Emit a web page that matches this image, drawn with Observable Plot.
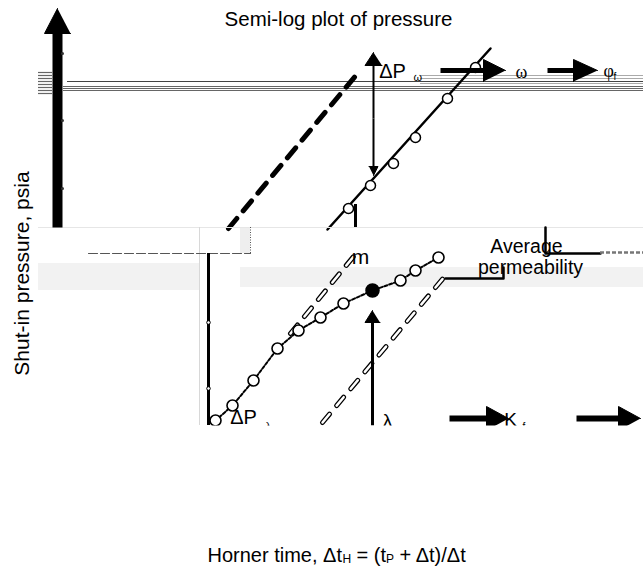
<!DOCTYPE html>
<html><head><meta charset="utf-8">
<script src="https://cdn.jsdelivr.net/npm/d3@7"></script>
<script src="https://cdn.jsdelivr.net/npm/@observablehq/plot@0.6"></script>
<style>
body{margin:0;background:#fff;}
#chart svg{display:block;font-family:"Liberation Sans",Arial,sans-serif;background:#fff;}
</style>
</head><body><div id="chart"></div>
<script>
// ---- data (schematic units: t = log Horner time position, p = pressure) ----
const earlyTime = [34.8, 37.0, 39.3, 41.5, 44.7, 47.5];
const earlyPressure = [36.0, 38.3, 40.5, 43.1, 47.0, 50.1];
const earlyFit = [{t: 32.7, p: 33.9}, {t: 49.0, p: 52.0}];
const earlyParallel = [{t: 22.8, p: 34.0}, {t: 35.7, p: 49.5}];

const lateTime = [21.5, 23.2, 25.3, 27.7, 29.8, 32.0, 34.3, 37.2, 40.0, 41.5, 43.8];
const latePressure = [14.8, 16.3, 18.8, 22.0, 23.8, 25.1, 26.5, 27.8, 28.8, 29.8, 31.1];
const inflectionIndex = 7;
const slopeLineA = [{t: 29.0, p: 23.5}, {t: 35.8, p: 31.8}];
const slopeLineB = [{t: 32.2, p: 14.6}, {t: 44.5, p: 29.3}];
const bracketLow = [{t: 44.5, p: 29.0}, {t: 50.3, p: 29.0}, {t: 50.3, p: 30.1}];
const bracketHigh = [{t: 54.5, p: 34.1}, {t: 54.5, p: 31.5}, {t: 60.0, p: 31.5}];
const pInitialLevel = [{t: 8.8, p: 31.5}, {t: 25.0, p: 31.5}];

const arrows = [
  {id: "axis", t1: 5.7, p1: 34.1, t2: 5.7, p2: 56.0},
  {id: "dPwUp", t1: 37.3, p1: 45.0, t2: 37.3, p2: 51.6},
  {id: "dPwDown", t1: 37.3, p1: 45.0, t2: 37.3, p2: 39.3},
  {id: "omega", t1: 44.0, p1: 49.8, t2: 50.5, p2: 49.8},
  {id: "phi", t1: 54.7, p1: 49.8, t2: 59.7, p2: 49.8},
  {id: "lambda", t1: 37.2, p1: 14.3, t2: 37.2, p2: 25.8},
  {id: "kf", t1: 44.9, p1: 15.0, t2: 50.8, p2: 15.0},
  {id: "out", t1: 57.6, p1: 15.0, t2: 64.0, p2: 15.0}
];
const axisTicks = [51.5, 44.8, 38.0];
const lowerAxisTicks = [24.6, 18.0];
const topLevelsDark = [48.7];
const topLevelsMid = [48.2, 48.0, 47.8];
const topLevelsLight = [49.3, 49.0, 48.5];
const leftHatch = [49.6, 49.3, 49.0, 48.7, 48.4, 48.1, 47.8, 47.5];

const labels = [
  {t: 33.8, p: 54.3, text: "Semi-log plot of pressure", size: 20.5, anchor: "middle"},
  {t: 39.2, p: 49.1, text: "ΔP", size: 20, anchor: "start"},
  {t: 36.0, p: 30.5, text: "m", size: 21, anchor: "start"},
  {t: 52.6, p: 31.6, text: "Average", size: 19.5, anchor: "middle"},
  {t: 53.0, p: 29.5, text: "permeability", size: 19.5, anchor: "middle"},
  {t: 24.3, p: 14.5, text: "ΔP", size: 20, anchor: "start"},
  {t: 38.7, p: 14.2, text: "λ", size: 19, anchor: "start"},
  {t: 51.0, p: 14.3, text: "K", size: 19, anchor: "start"}
];
const greekLabels = [
  {t: 51.5, p: 49.1, text: "ω", size: 18},
  {t: 60.3, p: 49.2, text: "φ", size: 18}
];
const subLabels = [
  {t: 41.3, p: 48.8, text: "ω", size: 11, font: "Liberation Serif"},
  {t: 61.3, p: 48.9, text: "f", size: 10, font: "Liberation Sans"},
  {t: 26.5, p: 13.9, text: "λ", size: 11, font: "Liberation Sans"},
  {t: 52.2, p: 13.9, text: "f", size: 10, font: "Liberation Sans"}
];
const xTitleParts = [
  {t: 20.7, text: "Horner time, Δt", size: 20},
  {t: 34.2, text: "H", size: 12},
  {t: 35.05, text: " = (t", size: 20},
  {t: 38.55, text: "P", size: 12},
  {t: 39.35, text: " + Δt)/Δt", size: 20}
];
const yTitle = "Shut-in pressure, psia";

// ---- derived geometry for arrows ----
const arrowLook = {
  axis: {w: 10, len: 2.5, half: 1.3},
  dPwUp: {w: 2, len: 1.3, half: 0.85},
  dPwDown: {w: 2, len: 0.9, half: 0.45},
  omega: {w: 5, len: 2.2, half: 1.1},
  phi: {w: 5, len: 2.4, half: 1.1},
  lambda: {w: 3, len: 1.2, half: 0.75},
  kf: {w: 6, len: 2.2, half: 1.2},
  out: {w: 6, len: 2.2, half: 1.2}
};
const shafts = [], heads = [];
for (const a of arrows) {
  const s = arrowLook[a.id];
  const dx = a.t2 - a.t1, dy = a.p2 - a.p1, L = Math.hypot(dx, dy);
  const ux = dx / L, uy = dy / L;
  const bx = a.t2 - ux * s.len, by = a.p2 - uy * s.len;
  shafts.push({...a, t2: a.t2 - ux * s.len * 0.6, p2: a.p2 - uy * s.len * 0.6, w: s.w});
  heads.push({id: a.id, t: a.t2, p: a.p2});
  heads.push({id: a.id, t: bx - uy * s.half, p: by + ux * s.half});
  heads.push({id: a.id, t: bx + uy * s.half, p: by - ux * s.half});
}
const early = earlyTime.map((t, i) => ({t, p: earlyPressure[i]}));
const late = lateTime.map((t, i) => ({t, p: latePressure[i]}));
const lateOpen = late.filter((d, i) => i !== inflectionIndex);
const lateFilled = [late[inflectionIndex]];

const chart = Plot.plot({
  width: 643, height: 568, margin: 0,
  x: {domain: [0, 64.3], axis: null},
  y: {domain: [0, 56.8], axis: null},
  marks: [
    // top panel reference levels (glitched horizontal rules)
    Plot.ruleY(topLevelsDark, {x1: 6.7, x2: 64.3, stroke: "#444", strokeWidth: 1}),
    Plot.ruleY(topLevelsMid, {x1: 6.3, x2: 64.3, stroke: "#666", strokeWidth: 1.2}),
    Plot.ruleY(topLevelsLight, {x1: 42, x2: 64.3, stroke: "#aaa", strokeWidth: 1}),
    Plot.ruleY(leftHatch, {x1: 3.8, x2: 5.2, stroke: "#666", strokeWidth: 1.2}),
    // early-time straight lines
    Plot.line(earlyParallel, {x: "t", y: "p", stroke: "black", strokeWidth: 5, strokeDasharray: "13,10"}),
    Plot.line(earlyFit, {x: "t", y: "p", stroke: "black", strokeWidth: 2.5}),
    Plot.ruleX([35.5], {y1: 34.1, y2: 36.4, stroke: "black", strokeWidth: 3}),
    Plot.dot(early, {x: "t", y: "p", r: 5, fill: "white", stroke: "black", strokeWidth: 1.5}),
    // lower panel background glitch bands
    Plot.rect([0], {x1: 3.8, x2: 20.0, y1: 27.8, y2: 30.5, fill: "#f2f2f2"}),
    Plot.rect([0], {x1: 24.0, x2: 64.3, y1: 28.1, y2: 30.1, fill: "#f2f2f2"}),
    Plot.rect([0], {x1: 24.0, x2: 25.0, y1: 31.5, y2: 34.1, fill: "#eeeeee"}),
    Plot.ruleY([34.1], {x1: 3.8, x2: 64.3, stroke: "#e6e6e6", strokeWidth: 1}),
    Plot.ruleX([19.9], {y1: 14.3, y2: 34.1, stroke: "#d8d8d8", strokeWidth: 1}),
    Plot.line(pInitialLevel, {x: "t", y: "p", stroke: "#555", strokeWidth: 1.2, strokeDasharray: "9,3"}),
    Plot.ruleX([25.0], {y1: 31.5, y2: 34.1, stroke: "#555", strokeWidth: 1, strokeDasharray: "1,1.5"}),
    Plot.ruleX([20.8], {y1: 14.3, y2: 31.5, stroke: "black", strokeWidth: 3}),
    Plot.dot(lowerAxisTicks, {x: 20.8, y: d => d, r: 1.8, fill: "white", stroke: "black", strokeWidth: 1}),
    // hatched slope lines
    Plot.line(slopeLineA, {x: "t", y: "p", stroke: "black", strokeWidth: 5, strokeDasharray: "11,11"}),
    Plot.line(slopeLineA, {x: "t", y: "p", stroke: "white", strokeWidth: 2.5, strokeDasharray: "11,11"}),
    Plot.line(slopeLineB, {x: "t", y: "p", stroke: "black", strokeWidth: 5, strokeDasharray: "11,11"}),
    Plot.line(slopeLineB, {x: "t", y: "p", stroke: "white", strokeWidth: 2.5, strokeDasharray: "11,11"}),
    Plot.line(bracketLow, {x: "t", y: "p", stroke: "black", strokeWidth: 2.5}),
    Plot.line(bracketHigh, {x: "t", y: "p", stroke: "black", strokeWidth: 2.5}),
    Plot.ruleY([31.6], {x1: 60.0, x2: 64.3, stroke: "#777", strokeWidth: 2.5, strokeDasharray: "4,2"}),
    // late-time data
    Plot.line(late, {x: "t", y: "p", stroke: "black", strokeWidth: 2, strokeDasharray: "3,2"}),
    Plot.dot(lateOpen, {x: "t", y: "p", r: 5.5, fill: "white", stroke: "black", strokeWidth: 1.6}),
    Plot.dot(lateFilled, {x: "t", y: "p", r: 6.5, fill: "black", stroke: "black", strokeWidth: 1.5}),
    // arrows
    Plot.link(shafts, {x1: "t1", y1: "p1", x2: "t2", y2: "p2", stroke: "black", strokeWidth: "w"}),
    Plot.line(heads, {x: "t", y: "p", z: "id", fill: "black", stroke: "black", strokeWidth: 1, strokeLinejoin: "miter"}),
    Plot.dot(axisTicks, {x: 6.2, y: d => d, r: 1.5, fill: "#333"}),
    // labels
    Plot.text(labels, {x: "t", y: "p", text: "text", fontSize: d => d.size, lineAnchor: "bottom", fill: "black", textAnchor: d => d.anchor}),
    Plot.text(greekLabels, {x: "t", y: "p", text: "text", fontSize: d => d.size, textAnchor: "start", lineAnchor: "bottom", fill: "black", fontFamily: "Liberation Serif"}),
    Plot.text(subLabels, {x: "t", y: "p", text: "text", fontSize: d => d.size, textAnchor: "start", lineAnchor: "bottom", fill: "black", fontFamily: d => d.font}),
    // glitch: lower panel cut off
    Plot.rect([0], {x1: 0, x2: 64.3, y1: 3.0, y2: 14.25, fill: "white"}),
    Plot.text(xTitleParts, {x: "t", y: d => d.size < 15 ? 0.55 : 0.7, text: "text", fontSize: d => d.size, textAnchor: "start", lineAnchor: "bottom", fill: "black"}),
    Plot.text([yTitle], {x: 2.2, y: 29.5, text: d => d, rotate: -90, fontSize: 21, textAnchor: "middle", fill: "black"})
  ]
});
document.getElementById("chart").append(chart);
</script></body></html>
